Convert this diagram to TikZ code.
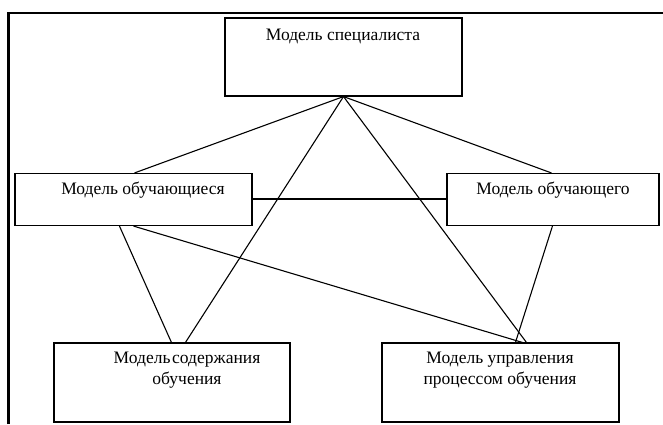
\documentclass[tikz,border=0pt]{standalone}
\usepackage{fontspec}
\setmainfont{Liberation Serif}
\usetikzlibrary{calc}
\begin{document}
\begin{tikzpicture}[x=1pt,y=-1pt,
  box/.style={draw,line width=1.1pt,rectangle,inner sep=0pt},
  txt/.style={inner sep=0pt,font=\fontsize{17.5}{21}\selectfont,align=center},
  link/.style={line width=1.1pt},
  frame/.style={line width=2.2pt}]
\useasboundingbox (0,0) rectangle (663,424);
% outer frame (only left and top edges visible)
\coordinate (f1) at (8.5,424);
\coordinate (f2) at (8.5,12.7);
\coordinate (f3) at (663,12.7);
\draw[frame] (f1) -- (f2) -- (f3);
% boxes
\node[box,minimum width=237pt,minimum height=78pt] (T) at (343.5,57) {};
\node[box,minimum width=237pt,minimum height=52pt] (L) at (133.5,199.5) {};
\node[box,minimum width=212pt,minimum height=52pt] (R) at (553,199.5) {};
\node[box,minimum width=236pt,minimum height=79pt] (BL) at (172,382.5) {};
\node[box,minimum width=237pt,minimum height=79pt] (BR) at (500.5,382.5) {};
% texts
\node[txt] (tT) at (343,36) {Модель специалиста};
\node[txt] (tL) at (143,190) {Модель обучающиеся};
\node[txt] (tR) at (553,190) {Модель обучающего};
\node[txt] (tBL) at (187,370) {Модель\hspace{0.1em}содержания\\обучения};
\node[txt] (tBR) at (500,370) {Модель управления\\процессом обучения};
% connectors
\coordinate (apex) at (T.south);
\draw[link] (apex) -- ([xshift=120pt]L.north west);
\draw[link] (apex) -- ([xshift=105pt]R.north west);
\draw[link] (apex) -- ([xshift=132pt]BL.north west);
\draw[link] (apex) -- ([xshift=145pt]BR.north west);
\draw[link] ([yshift=0.5pt]L.east) -- ([yshift=0.5pt]R.west);
\draw[link] ([xshift=105pt]L.south west) -- ([xshift=118pt]BL.north west);
\draw[link] ([xshift=119pt]L.south west) -- ([xshift=141pt]BR.north west);
\draw[link] ([xshift=106pt]R.south west) -- ([xshift=134pt]BR.north west);
\end{tikzpicture}
\end{document}
